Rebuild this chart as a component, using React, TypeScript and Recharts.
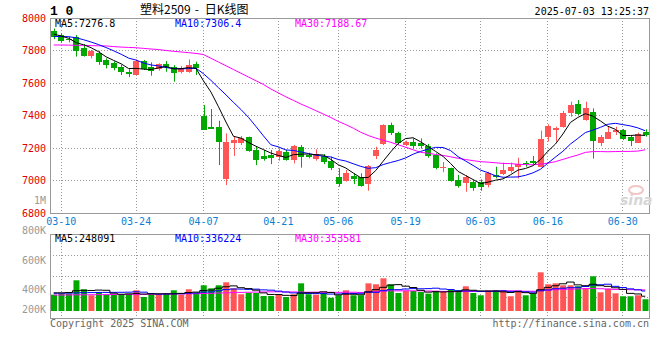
import { ComposedChart, Bar, Line, XAxis, YAxis, Cell } from 'recharts'

// trading days 03-07 .. 07-03
const dates = [
  '03-07', '03-10', '03-11', '03-12', '03-13', '03-14', '03-17', '03-18', '03-19', '03-20',
  '03-21', '03-24', '03-25', '03-26', '03-27', '03-28', '03-31', '04-01', '04-02', '04-03',
  '04-07', '04-08', '04-09', '04-10', '04-11', '04-14', '04-15', '04-16', '04-17', '04-18',
  '04-21', '04-22', '04-23', '04-24', '04-25', '04-28', '04-29', '04-30', '05-06', '05-07',
  '05-08', '05-09', '05-12', '05-13', '05-14', '05-15', '05-16', '05-19', '05-20', '05-21',
  '05-22', '05-23', '05-26', '05-27', '05-28', '05-29', '05-30', '06-03', '06-04', '06-05',
  '06-06', '06-09', '06-10', '06-11', '06-12', '06-13', '06-16', '06-17', '06-18', '06-19',
  '06-20', '06-23', '06-24', '06-25', '06-26', '06-27', '06-30', '07-01', '07-02', '07-03',
]

const opens = [
  7918, 7895, 7872, 7885, 7815, 7768, 7785, 7741, 7722, 7700,
  7670, 7651, 7735, 7700, 7684, 7715, 7700, 7670, 7670, 7717,
  7397, 7331, 7329, 7009, 7233, 7233, 7266, 7188, 7151, 7157,
  7147, 7177, 7126, 7204, 7157, 7130, 7151, 7122, 7024, 6999,
  7028, 7024, 6980, 7151, 7225, 7341, 7290, 7218, 7235, 7233,
  7212, 7157, 7079, 7075, 7003, 6982, 6993, 6993, 6972, 7034,
  7040, 7058, 7081, 7105, 7120, 7085, 7266, 7311, 7331, 7417,
  7471, 7372, 7423, 7233, 7255, 7300, 7311, 7266, 7233, 7300,
]

const closes = [
  7885, 7860, 7862, 7800, 7768, 7797, 7731, 7708, 7690, 7665,
  7653, 7735, 7684, 7676, 7715, 7696, 7663, 7690, 7710, 7690,
  7313, 7319, 7239, 7239, 7249, 7259, 7184, 7126, 7134, 7140,
  7184, 7126, 7212, 7147, 7147, 7163, 7116, 7079, 6978, 7048,
  7011, 6968, 7089, 7188, 7341, 7294, 7229, 7239, 7214, 7212,
  7151, 7079, 7085, 6999, 6966, 7024, 6956, 6958, 7048, 7024,
  7064, 7081, 7101, 7099, 7110, 7253, 7335, 7321, 7413, 7464,
  7409, 7448, 7245, 7270, 7300, 7311, 7257, 7245, 7286, 7280,
]

const highs = [
  7935, 7905, 7885, 7895, 7840, 7803, 7798, 7752, 7733, 7712,
  7685, 7745, 7741, 7727, 7721, 7735, 7710, 7704, 7745, 7731,
  7464, 7440, 7368, 7290, 7270, 7274, 7270, 7208, 7188, 7188,
  7198, 7188, 7218, 7218, 7171, 7192, 7163, 7147, 7075, 7065,
  7044, 7044, 7095, 7208, 7346, 7356, 7300, 7245, 7259, 7259,
  7225, 7167, 7114, 7079, 7034, 7034, 7003, 7007, 7054, 7085,
  7110, 7110, 7140, 7120, 7151, 7307, 7346, 7331, 7428, 7485,
  7495, 7485, 7444, 7280, 7331, 7331, 7317, 7280, 7294, 7315,
]

const lows = [
  7870, 7848, 7850, 7762, 7762, 7752, 7712, 7690, 7678, 7649,
  7636, 7649, 7680, 7645, 7676, 7669, 7608, 7659, 7663, 7649,
  7311, 7319, 7095, 6972, 7151, 7218, 7177, 7095, 7122, 7101,
  7122, 7122, 7105, 7079, 7136, 7122, 7101, 7064, 6962, 6993,
  6978, 6962, 6937, 7132, 7218, 7280, 7218, 7212, 7198, 7196,
  7140, 7069, 7051, 6993, 6956, 6931, 6937, 6937, 6958, 7013,
  7034, 7048, 7013, 7085, 7099, 7081, 7239, 7239, 7325, 7393,
  7403, 7368, 7135, 7212, 7255, 7280, 7249, 7212, 7233, 7270,
]

const ma5 = [
  7901, 7889, 7875, 7848, 7835, 7817, 7792, 7761, 7739, 7718,
  7689, 7690, 7685, 7683, 7693, 7701, 7687, 7688, 7695, 7690,
  7613, 7544, 7454, 7360, 7272, 7261, 7234, 7211, 7190, 7169,
  7154, 7142, 7159, 7162, 7163, 7159, 7157, 7130, 7097, 7077,
  7046, 7017, 7019, 7061, 7119, 7176, 7228, 7258, 7263, 7238,
  7209, 7179, 7148, 7105, 7056, 7031, 7006, 6981, 6990, 7002,
  7010, 7035, 7064, 7074, 7091, 7129, 7180, 7224, 7286, 7357,
  7388, 7411, 7396, 7367, 7334, 7315, 7277, 7277, 7280, 7277,
]

const ma10 = [
  7886, 7886, 7885, 7878, 7866, 7852, 7836, 7818, 7798, 7777,
  7753, 7741, 7723, 7711, 7705, 7695, 7689, 7687, 7689, 7691,
  7657, 7616, 7571, 7527, 7481, 7437, 7389, 7333, 7275, 7220,
  7207, 7188, 7185, 7176, 7166, 7156, 7150, 7145, 7129, 7120,
  7103, 7087, 7075, 7079, 7098, 7111, 7123, 7139, 7162, 7179,
  7193, 7204, 7203, 7184, 7147, 7120, 7093, 7064, 7048, 7029,
  7020, 7021, 7022, 7032, 7047, 7069, 7107, 7144, 7180, 7224,
  7259, 7295, 7310, 7327, 7346, 7352, 7344, 7336, 7324, 7306,
]

const ma30 = [
  7834, 7834, 7833, 7832, 7832, 7830, 7829, 7828, 7824, 7821,
  7819, 7817, 7813, 7809, 7806, 7800, 7795, 7791, 7787, 7782,
  7775, 7752, 7729, 7706, 7683, 7660, 7637, 7614, 7591, 7563,
  7539, 7515, 7493, 7471, 7451, 7430, 7409, 7388, 7364, 7344,
  7322, 7297, 7277, 7261, 7248, 7235, 7220, 7205, 7189, 7173,
  7168, 7160, 7154, 7146, 7137, 7129, 7122, 7116, 7113, 7109,
  7105, 7104, 7100, 7098, 7097, 7100, 7107, 7116, 7130, 7144,
  7157, 7173, 7178, 7178, 7177, 7178, 7179, 7179, 7181, 7189,
]

// volume in thousands
const volumes = [
  274, 291, 291, 516, 365, 264, 319, 274, 274, 274,
  291, 348, 235, 291, 274, 291, 348, 274, 365, 307,
  432, 381, 432, 482, 381, 281, 302, 302, 252, 252,
  274, 235, 281, 465, 281, 274, 307, 223, 264, 348,
  264, 264, 465, 449, 549, 449, 302, 336, 336, 319,
  291, 336, 319, 358, 348, 415, 302, 264, 348, 348,
  348, 247, 331, 264, 291, 650, 449, 465, 432, 432,
  415, 381, 583, 314, 375, 297, 247, 247, 264, 197,
]

const volMa5 = [
  305, 305, 310, 340, 347, 345, 351, 348, 299, 281,
  286, 292, 284, 288, 288, 288, 288, 296, 310, 317,
  345, 352, 383, 407, 422, 391, 376, 350, 304, 278,
  276, 263, 259, 301, 307, 307, 322, 310, 270, 283,
  281, 273, 321, 358, 398, 435, 443, 417, 394, 348,
  317, 324, 320, 325, 330, 355, 348, 337, 335, 335,
  322, 311, 324, 308, 296, 357, 397, 424, 457, 486,
  439, 425, 449, 425, 414, 390, 363, 296, 286, 248,
]

const volMa10 = [
  297, 298, 300, 304, 307, 309, 311, 312, 313, 314,
  316, 322, 316, 294, 284, 287, 290, 290, 299, 302,
  317, 320, 340, 359, 369, 368, 364, 367, 355, 350,
  334, 319, 304, 303, 293, 292, 292, 284, 286, 295,
  294, 297, 316, 314, 341, 358, 358, 369, 376, 373,
  376, 383, 369, 360, 339, 336, 336, 329, 330, 333,
  339, 330, 331, 322, 316, 339, 354, 374, 383, 391,
  398, 411, 436, 441, 450, 414, 394, 372, 356, 336,
]

const volMa30 = [
  268, 268, 270, 272, 272, 273, 274, 275, 276, 276,
  278, 279, 280, 281, 282, 284, 285, 287, 289, 290,
  294, 297, 301, 305, 309, 312, 315, 318, 320, 322,
  322, 320, 320, 318, 315, 316, 315, 314, 313, 316,
  315, 312, 320, 325, 334, 339, 338, 340, 339, 339,
  335, 333, 329, 325, 324, 329, 329, 327, 331, 334,
  336, 337, 338, 332, 332, 345, 349, 357, 363, 366,
  371, 375, 379, 374, 368, 363, 361, 358, 356, 354,
]

const dateTicks = ['03-10', '03-24', '04-07', '04-21', '05-06', '05-19', '06-03', '06-16', '06-30']
const priceTicks = [6800, 7000, 7200, 7400, 7600, 7800, 8000]
const priceGrid = [7000, 7200, 7400, 7600, 7800]
const volumeGrid = [235000, 588000, 941000]
const volumeLabels = ['1M', '800K', '600K', '400K', '200K']

const RED = '#ff5555'
const GREEN = '#00a800'
const GRID = '#999999'
const MONO = '"DejaVu Sans Mono", "Liberation Mono", monospace'

// layout of the two panes (page pixels)
const PLOT_LEFT = 50
const PLOT_W = 599
const PRICE_TOP = 18
const PRICE_H = 195
const VOL_TOP = 234
const VOL_H = 84
const PRICE_DOMAIN = [6800, 8000]
const VOL_DOMAIN = [-118000, 1294000]

const rows = dates.map((date, i) => ({
  date,
  open: opens[i],
  close: closes[i],
  high: highs[i],
  low: lows[i],
  ma5: ma5[i],
  ma10: ma10[i],
  ma30: ma30[i],
  volume: volumes[i] * 1000,
  vma5: volMa5[i] * 1000,
  vma10: volMa10[i] * 1000,
  vma30: volMa30[i] * 1000,
}))

function Candle(props: any) {
  const { x, y, width, height, payload } = props
  if (x == null || y == null || !payload) return null
  const top = Math.min(y, y + height)
  const h = Math.abs(height)
  const { open, close, high, low } = payload
  const span = high - low || 1
  const py = (v: number) => top + ((high - v) / span) * h
  const color = close >= open ? RED : GREEN
  const bodyTop = py(Math.max(open, close))
  const bodyBot = py(Math.min(open, close))
  const left = Math.round(x)
  const cx = left + Math.floor(width / 2) + 0.5
  return (
    <g>
      <line x1={cx} x2={cx} y1={top} y2={top + h} stroke={color} strokeWidth={1} />
      <rect
        x={left}
        y={bodyTop}
        width={width}
        height={Math.max(1, bodyBot - bodyTop)}
        fill={color}
        shapeRendering="crispEdges"
      />
    </g>
  )
}

// grid positions follow the same band / linear layout the charts use
const bandX = (d: string) => Math.floor(PLOT_LEFT + (dates.indexOf(d) + 0.5) * (PLOT_W / dates.length)) + 0.5
const priceY = (v: number) =>
  Math.floor(PRICE_TOP + ((PRICE_DOMAIN[1] - v) / (PRICE_DOMAIN[1] - PRICE_DOMAIN[0])) * PRICE_H) + 0.5
const volY = (v: number) => Math.round(VOL_TOP + ((VOL_DOMAIN[1] - v) / (VOL_DOMAIN[1] - VOL_DOMAIN[0])) * VOL_H) + 0.5

// volume axis labels sit where the original draws them
const volLabelY = [204, 234, 264, 293, 313]

export default function App() {
  const right = PLOT_LEFT + PLOT_W
  return (
    <div style={{ position: 'absolute', left: 0, top: 0, width: 660, height: 360, background: '#fff' }}>
      <svg width={660} height={360} style={{ position: 'absolute', left: 0, top: 0 }}>
        <g stroke={GRID} strokeWidth={1} strokeDasharray="1 2" fill="none">
          {priceGrid.map((v) => (
            <line key={`py${v}`} x1={PLOT_LEFT} x2={right} y1={priceY(v)} y2={priceY(v)} />
          ))}
          {volumeGrid.map((v) => (
            <line key={`vy${v}`} x1={PLOT_LEFT} x2={right} y1={volY(v)} y2={volY(v)} />
          ))}
          {dateTicks.map((d) => (
            <line key={`px${d}`} x1={bandX(d)} x2={bandX(d)} y1={PRICE_TOP} y2={PRICE_TOP + PRICE_H} />
          ))}
          {dateTicks.map((d) => (
            <line key={`vx${d}`} x1={bandX(d)} x2={bandX(d)} y1={VOL_TOP} y2={VOL_TOP + VOL_H} />
          ))}
        </g>
      </svg>

      <div style={{ position: 'absolute', left: 0, top: 0 }}>
        <ComposedChart width={660} height={232} data={rows} margin={{ top: PRICE_TOP, right: 660 - right, bottom: 5, left: 0 }}>
          <XAxis
            dataKey="date"
            ticks={dateTicks}
            interval={0}
            height={14}
            tickSize={0}
            tickMargin={5}
            axisLine={false}
            tickLine={false}
            tick={{ fill: '#0b7fd4', fontSize: 10, fontFamily: MONO }}
          />
          <YAxis
            domain={PRICE_DOMAIN}
            ticks={priceTicks}
            width={PLOT_LEFT}
            tickSize={0}
            tickMargin={4}
            axisLine={false}
            tickLine={false}
            allowDataOverflow
            tick={{ fill: '#e00000', fontSize: 10, fontFamily: MONO }}
          />
          <Bar dataKey={(d: any) => [d.low, d.high]} barSize={6} shape={<Candle />} isAnimationActive={false} />
          <Line dataKey="ma30" stroke="#ff00ff" strokeWidth={1} dot={false} isAnimationActive={false} />
          <Line dataKey="ma10" stroke="#0000ff" strokeWidth={1} dot={false} isAnimationActive={false} />
          <Line dataKey="ma5" stroke="#000000" strokeWidth={1} dot={false} isAnimationActive={false} />
        </ComposedChart>
      </div>

      <div style={{ position: 'absolute', left: 0, top: VOL_TOP - 8 }}>
        <ComposedChart width={660} height={VOL_H + 16} data={rows} margin={{ top: 8, right: 660 - right, bottom: 0, left: PLOT_LEFT }}>
          <XAxis dataKey="date" ticks={dateTicks} interval={0} height={8} tick={false} axisLine={false} tickLine={false} />
          <YAxis hide domain={VOL_DOMAIN} />
          <Bar dataKey="volume" barSize={6} isAnimationActive={false}>
            {rows.map((r, i) => (
              <Cell key={i} fill={r.close >= r.open ? RED : GREEN} />
            ))}
          </Bar>
          <Line type="step" dataKey="vma30" stroke="#ff00ff" strokeWidth={1} dot={false} isAnimationActive={false} />
          <Line type="step" dataKey="vma10" stroke="#0000ff" strokeWidth={1} dot={false} isAnimationActive={false} />
          <Line type="step" dataKey="vma5" stroke="#000000" strokeWidth={1} dot={false} isAnimationActive={false} />
        </ComposedChart>
      </div>

      <svg width={660} height={360} style={{ position: 'absolute', left: 0, top: 0, pointerEvents: 'none' }}>
        <rect x={PLOT_LEFT + 0.5} y={PRICE_TOP + 0.5} width={PLOT_W} height={PRICE_H} fill="none" stroke="#999" />
        <rect x={PLOT_LEFT + 0.5} y={VOL_TOP + 0.5} width={PLOT_W} height={VOL_H} fill="none" stroke="#999" />

        <text x={50} y={15} fontFamily='"Liberation Mono", monospace' fontWeight="bold" fontSize={13} fill="#000">1 0</text>
        <text x={140} y={14} fontFamily='"Noto Sans CJK SC", sans-serif' fontSize={12} fill="#000">
          塑料2509<tspan dx={4}>-</tspan><tspan dx={6}>日K线图</tspan>
        </text>
        <text x={649} y={15} textAnchor="end" fontFamily={MONO} fontSize={10} fill="#000">2025-07-03 13:25:37</text>

        <text x={55} y={27} fontFamily={MONO} fontSize={10} fill="#000">MA5:7276.8</text>
        <text x={175} y={27} fontFamily={MONO} fontSize={10} fill="#0000ff">MA10:7306.4</text>
        <text x={295} y={27} fontFamily={MONO} fontSize={10} fill="#ff00ff">MA30:7188.67</text>

        <text x={55} y={242} fontFamily={MONO} fontSize={10} fill="#000">MA5:248091</text>
        <text x={175} y={242} fontFamily={MONO} fontSize={10} fill="#0000ff">MA10:336224</text>
        <text x={295} y={242} fontFamily={MONO} fontSize={10} fill="#ff00ff">MA30:353581</text>

        {volumeLabels.map((label, i) => (
          <text key={label} x={46} y={volLabelY[i]} textAnchor="end" fontFamily={MONO} fontSize={10} fill="#999">
            {label}
          </text>
        ))}

        <text x={50} y={327} fontFamily={MONO} fontSize={10} fill="#666">Copyright 2025 SINA.COM</text>
        <text x={649} y={327} textAnchor="end" fontFamily={MONO} fontSize={10} fill="#666">http://finance.sina.com.cn</text>

        <ellipse cx={636} cy={190} rx={7} ry={4} fill="none" stroke="#f2c4c4" strokeWidth={2} />
        <text x={620} y={205} fontFamily='"DejaVu Sans", sans-serif' fontStyle="italic" fontWeight="bold" fontSize={14} fill="#d6d6d6">sina</text>
      </svg>
    </div>
  )
}
